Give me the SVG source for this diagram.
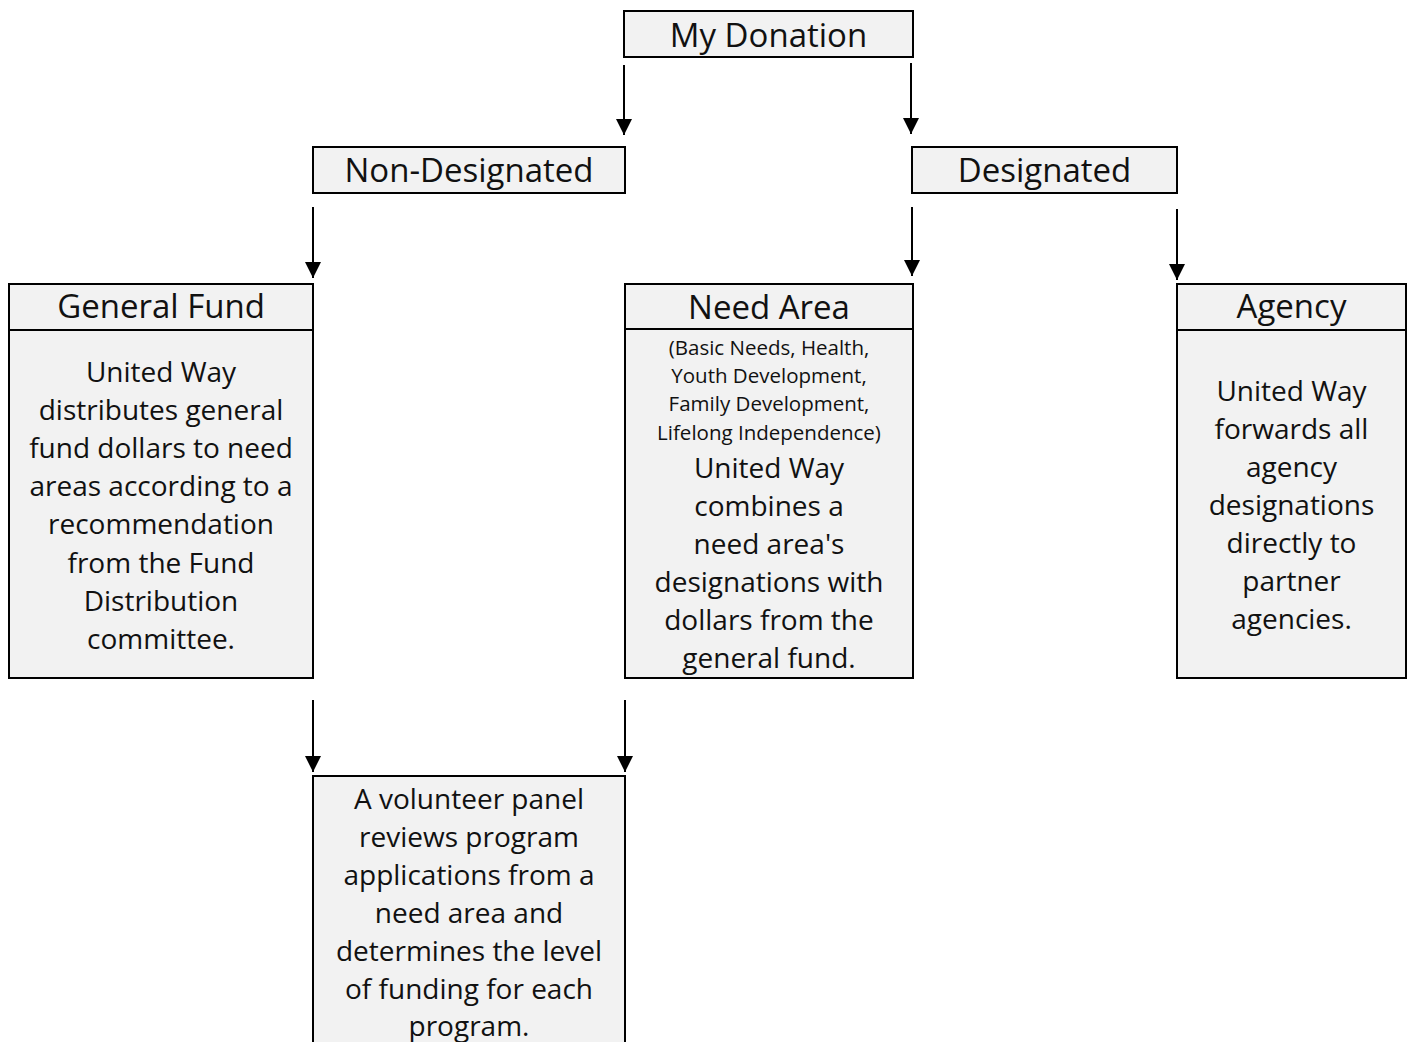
<svg xmlns="http://www.w3.org/2000/svg" width="1408" height="1042" viewBox="0 0 1408 1042">
<style>
.box{fill:#f2f2f2;stroke:#000;stroke-width:2}
.hd{font-family:"Open Sans","Liberation Sans",sans-serif;font-size:33px;fill:#111;text-anchor:middle}
.bd{font-family:"Open Sans","Liberation Sans",sans-serif;font-size:28px;fill:#111;text-anchor:middle}
.sm{font-family:"Open Sans","Liberation Sans",sans-serif;font-size:20.5px;fill:#111;text-anchor:middle}
.cn{stroke:#000;stroke-width:2;fill:none;marker-end:url(#ah)}
</style>
<defs>
<marker id="ah" markerUnits="userSpaceOnUse" markerWidth="16" markerHeight="16" viewBox="0 0 16 16" refX="16" refY="8" orient="auto">
<path d="M0,0 L16,8 L0,16 Z" fill="#000"/>
</marker>
</defs>
<rect width="1408" height="1042" fill="#fff"/>
<g id="connectors">
<line class="cn" x1="624" y1="65" x2="624" y2="135"/>
<line class="cn" x1="911" y1="63" x2="911" y2="134"/>
<line class="cn" x1="313" y1="207" x2="313" y2="278"/>
<line class="cn" x1="912" y1="207" x2="912" y2="276"/>
<line class="cn" x1="1177" y1="209" x2="1177" y2="280"/>
<line class="cn" x1="313" y1="700" x2="313" y2="772"/>
<line class="cn" x1="625" y1="700" x2="625" y2="772"/>
</g>
<g id="my-donation">
<rect class="box" x="624" y="11" width="289" height="46"/>
<text class="hd" x="768.5" y="47">My Donation</text>
</g>
<g id="non-designated">
<rect class="box" x="313" y="147" width="312" height="46"/>
<text class="hd" x="469" y="182">Non-Designated</text>
</g>
<g id="designated">
<rect class="box" x="912" y="147" width="265" height="46"/>
<text class="hd" x="1044.5" y="182">Designated</text>
</g>
<g id="general-fund">
<rect class="box" x="9" y="330" width="304" height="348"/>
<rect class="box" x="9" y="284" width="304" height="46"/>
<text class="hd" x="161" y="318">General Fund</text>
<text class="bd" x="161" y="382">United Way</text>
<text class="bd" x="161" y="420">distributes general</text>
<text class="bd" x="161" y="458">fund dollars to need</text>
<text class="bd" x="161" y="496">areas according to a</text>
<text class="bd" x="161" y="534">recommendation</text>
<text class="bd" x="161" y="573">from the Fund</text>
<text class="bd" x="161" y="611">Distribution</text>
<text class="bd" x="161" y="649">committee.</text>
</g>
<g id="need-area">
<rect class="box" x="625" y="329" width="288" height="349"/>
<rect class="box" x="625" y="284" width="288" height="45"/>
<text class="hd" x="769" y="319">Need Area</text>
<text class="sm" x="769" y="355">(Basic Needs, Health,</text>
<text class="sm" x="769" y="383">Youth Development,</text>
<text class="sm" x="769" y="411">Family Development,</text>
<text class="sm" x="769" y="440">Lifelong Independence)</text>
<text class="bd" x="769" y="478">United Way</text>
<text class="bd" x="769" y="516">combines a</text>
<text class="bd" x="769" y="554">need area's</text>
<text class="bd" x="769" y="592">designations with</text>
<text class="bd" x="769" y="630">dollars from the</text>
<text class="bd" x="769" y="668">general fund.</text>
</g>
<g id="agency">
<rect class="box" x="1177" y="330" width="229" height="348"/>
<rect class="box" x="1177" y="284" width="229" height="46"/>
<text class="hd" x="1291.5" y="318">Agency</text>
<text class="bd" x="1291.5" y="401">United Way</text>
<text class="bd" x="1291.5" y="439">forwards all</text>
<text class="bd" x="1291.5" y="477">agency</text>
<text class="bd" x="1291.5" y="515">designations</text>
<text class="bd" x="1291.5" y="553">directly to</text>
<text class="bd" x="1291.5" y="591">partner</text>
<text class="bd" x="1291.5" y="629">agencies.</text>
</g>
<g id="volunteer-panel">
<rect class="box" x="313" y="776" width="312" height="280"/>
<text class="bd" x="469" y="809">A volunteer panel</text>
<text class="bd" x="469" y="847">reviews program</text>
<text class="bd" x="469" y="885">applications from a</text>
<text class="bd" x="469" y="923">need area and</text>
<text class="bd" x="469" y="961">determines the level</text>
<text class="bd" x="469" y="999">of funding for each</text>
<text class="bd" x="469" y="1036">program.</text>
</g>
</svg>
